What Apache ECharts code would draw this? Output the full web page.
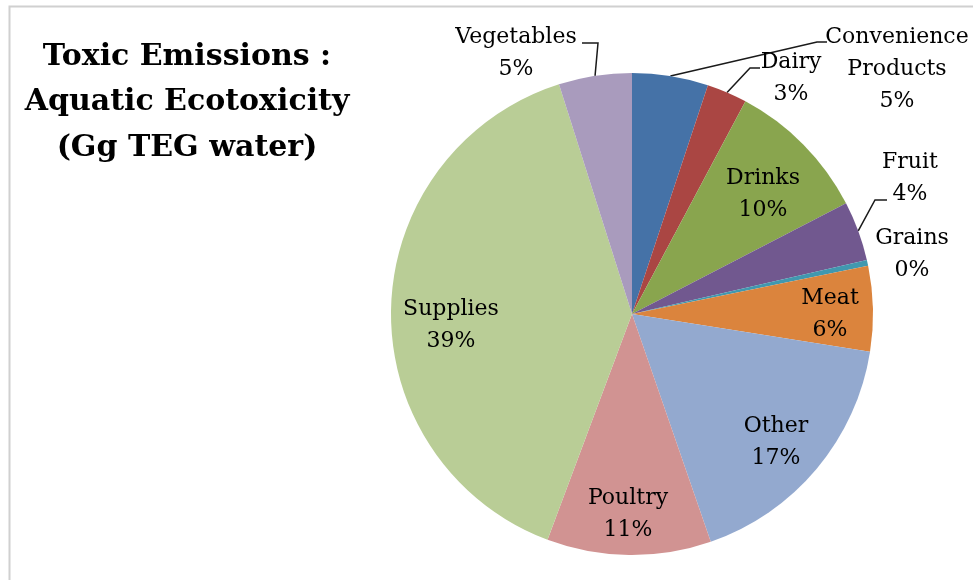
<!DOCTYPE html>
<html>
<head>
<meta charset="utf-8">
<title>Toxic Emissions : Aquatic Ecotoxicity</title>
<script src="https://cdn.jsdelivr.net/npm/echarts@6/dist/echarts.min.js"></script>
<style>
  html, body { margin: 0; padding: 0; background: #ffffff; }
  #chart { width: 973px; height: 580px; }
</style>
</head>
<body>
<div id="chart"></div>
<script>
// Share of aquatic ecotoxicity (Gg TEG water) by category, in percent
const categories = ['Convenience Products', 'Dairy', 'Drinks', 'Fruit', 'Grains',
                    'Meat', 'Other', 'Poultry', 'Supplies', 'Vegetables'];
const shares = [5.1, 2.7, 9.6, 4.0, 0.4, 5.7, 17.2, 11.0, 39.4, 4.9];
const titleLines = ['Toxic Emissions :', 'Aquatic Ecotoxicity', '(Gg TEG water)'];

const sliceColors = ['#4572A7', '#AA4643', '#89A54E', '#71588F', '#4198AF',
                     '#DB843D', '#93A9CF', '#D19392', '#B9CD96', '#A99BBD'];

// Where each label sits, and the elbow of its leader line (if it has one)
const labelSpots = {
  'Convenience Products': { at: [897, 69], elbow: [[817, 42], [827, 42]] },
  'Dairy':      { at: [791, 78], elbow: [[750, 68], [760, 68]] },
  'Drinks':     { at: [763, 194] },
  'Fruit':      { at: [910, 178], elbow: [[875, 200], [887, 200]] },
  'Grains':     { at: [912, 254] },
  'Meat':       { at: [830, 314] },
  'Other':      { at: [776, 442] },
  'Poultry':    { at: [628, 514] },
  'Supplies':   { at: [451, 325] },
  'Vegetables': { at: [516, 53], elbow: [[598, 43], [582, 43]] }
};

const chart = echarts.init(document.getElementById('chart'), null, { renderer: 'canvas' });

const pieData = categories.map((name, i) => ({
  name: name,
  value: shares[i],
  itemStyle: { color: sliceColors[i] },
  labelLine: { show: !!labelSpots[name].elbow }
}));

// Frame lines along the top and left edge
const graphics = [{
  type: 'polyline',
  shape: { points: [[9.5, 580], [9.5, 6.5], [973, 6.5]] },
  style: { stroke: '#d0d0d0', lineWidth: 2, fill: null },
  silent: true
}];

// Three-line title, each line centred on the same axis
const titleCenterX = 187;
const titleTopY = 57;
const titleStep = 45.5;
titleLines.forEach((line, i) => {
  graphics.push({
    type: 'text',
    x: titleCenterX,
    y: titleTopY + i * titleStep,
    style: {
      text: line,
      align: 'center',
      verticalAlign: 'middle',
      font: 'bold 30px "DejaVu Serif", serif',
      fill: '#000000'
    },
    silent: true
  });
});

chart.setOption({
  animation: false,
  backgroundColor: '#ffffff',
  graphic: graphics,
  series: [{
    type: 'pie',
    center: [632, 314],
    radius: 241,
    startAngle: 90,
    clockwise: true,
    avoidLabelOverlap: false,
    percentPrecision: 0,
    itemStyle: { borderWidth: 0 },
    emphasis: { disabled: true },
    label: {
      show: true,
      position: 'outside',
      formatter: p => p.name.replace(' ', '\n') + '\n' + p.percent + '%',
      fontFamily: '"DejaVu Serif", serif',
      fontSize: 22,
      lineHeight: 32,
      color: '#000000',
      align: 'center'
    },
    labelLine: {
      show: true,
      lineStyle: { color: '#1a1a1a', width: 1.5 }
    },
    labelLayout: function (p) {
      const spot = labelSpots[categories[p.dataIndex]];
      const out = { x: spot.at[0], y: spot.at[1], align: 'center', verticalAlign: 'middle' };
      if (spot.elbow && p.labelLinePoints) {
        out.labelLinePoints = [p.labelLinePoints[0], spot.elbow[0], spot.elbow[1]];
      }
      return out;
    },
    data: pieData
  }]
});
</script>
</body>
</html>
